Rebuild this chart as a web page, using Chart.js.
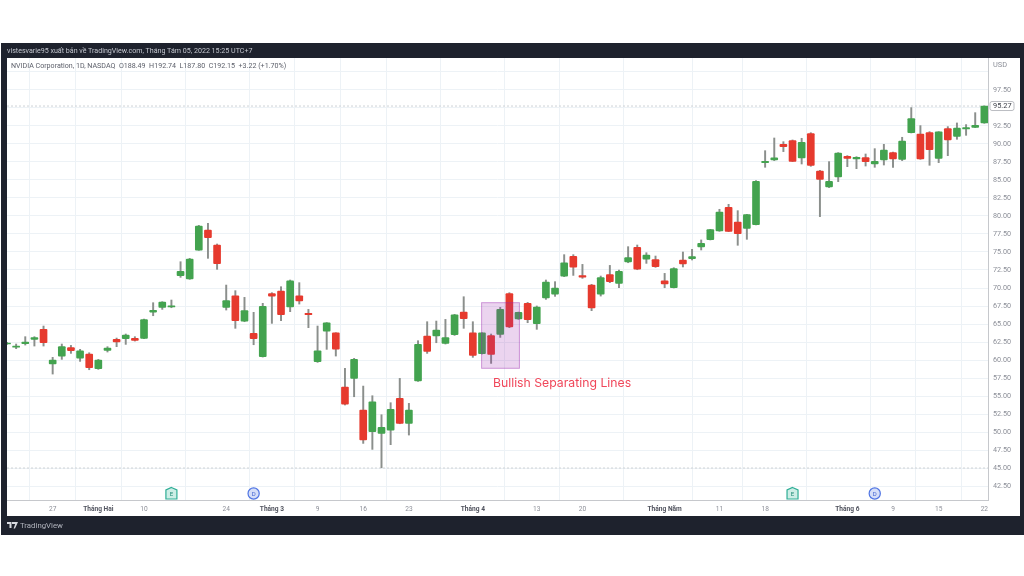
<!DOCTYPE html>
<html>
<head>
<meta charset="utf-8">
<title>NVIDIA Corporation, 1D</title>
<script src="https://cdn.jsdelivr.net/npm/chart.js@4"></script>
<style>
  html, body { margin: 0; padding: 0; background: #fff; }
  #page { position: relative; width: 1024px; height: 576px; overflow: hidden; filter: blur(0.6px); font-family: Roboto, "Noto Sans", sans-serif; }
  #frame { position: absolute; left: 1px; top: 43px; width: 1023px; height: 492px; background: #1e222d; }
  #panel { position: absolute; left: 7px; top: 58px; width: 1013px; height: 458px; background: #fff; }
  #chart { position: absolute; left: 0; top: 0; }
  #published { position: absolute; left: 7px; top: 46px; font-size: 7.1px; line-height: 10px; color: #c3c6ce; white-space: pre; }
  #legend { position: absolute; left: 11px; top: 61px; font-size: 7.1px; line-height: 10px; color: #5d606b; white-space: pre; }
  #brand { position: absolute; left: 7px; top: 521px; font-size: 7.8px; line-height: 10px; color: #b2b5be; white-space: pre; }
  #brand svg { position: absolute; left: 0; top: 1px; }
  #brand span { margin-left: 13px; }
</style>
</head>
<body>
<div id="page">
  <div id="frame"></div>
  <div id="panel"></div>
  <canvas id="chart" width="1024" height="576"></canvas>
  <div id="published">vistesvarie95 xuất bản về TradingView.com, Tháng Tám 05, 2022 15:25 UTC+7</div>
  <div id="legend">NVIDIA Corporation, 1D, NASDAQ  O188.49  H192.74  L187.80  C192.15  +3.22 (+1.70%)</div>
  <div id="brand"><svg width="11" height="7" viewBox="0 0 11 7"><path d="M0 0h4.5v6H2.5V2H0z M5 0h6L8 6.5H6.6L8.2 2H5z" fill="#d8dae0"/></svg><span>TradingView</span></div>
</div>
<script>
const open = [
  62.25,61.80,62.27,62.87,64.26,59.44,60.55,61.71,60.27,60.83,
  58.79,61.34,62.87,62.96,63.00,63.00,66.66,67.31,67.36,71.71,
  71.25,75.27,78.05,75.97,67.31,68.93,65.41,63.70,60.46,69.21,
  69.58,67.36,68.93,66.48,59.76,64.02,63.79,56.25,57.45,53.05,
  50.04,49.81,50.27,54.67,51.20,57.08,63.33,63.33,62.31,63.51,
  66.66,63.79,60.87,63.38,63.56,69.21,65.69,67.87,65.04,68.61,
  69.16,71.66,74.39,71.71,70.41,69.16,71.85,70.64,73.61,75.64,
  74.02,73.93,71.01,70.04,73.89,74.07,75.69,76.71,77.92,81.20,
  79.17,78.29,78.80,87.41,87.78,89.95,90.46,88.06,91.44,86.25,
  84.03,85.42,88.29,87.92,88.10,87.22,87.78,88.80,87.87,91.57,
  91.39,91.57,88.01,92.13,91.06,92.08,92.31,92.92
];
const high = [
  62.45,62.22,63.24,63.24,64.72,60.37,62.22,62.03,61.48,61.01,
  60.09,61.85,63.05,63.61,63.24,65.69,67.96,68.10,68.33,73.65,
  74.12,78.70,78.98,76.11,70.41,69.63,68.70,66.62,67.87,69.35,
  70.18,71.11,70.74,67.03,64.72,65.20,63.79,58.84,60.23,56.38,
  55.04,52.40,54.07,57.45,53.98,62.68,65.32,65.41,65.64,66.34,
  68.79,65.32,63.79,63.61,67.31,69.35,66.66,68.00,67.50,71.11,
  70.88,74.63,74.63,73.28,70.51,71.66,73.14,72.50,75.74,75.97,
  74.90,74.44,72.03,72.82,75.00,75.37,76.67,78.15,80.93,81.62,
  80.74,80.23,84.91,89.07,90.83,90.32,90.56,90.79,91.57,86.34,
  87.55,88.80,88.38,88.24,88.61,89.35,89.95,88.89,90.93,95.05,
  92.55,91.71,91.71,92.41,92.92,92.69,94.35,95.28
];
const low = [
  62.15,61.57,62.08,61.94,61.94,58.05,60.09,60.92,59.81,58.65,
  58.70,61.11,61.85,62.17,62.63,62.96,66.15,67.03,67.26,71.48,
  71.20,75.23,74.12,72.59,66.94,64.40,65.32,62.12,60.41,65.09,
  65.46,66.71,67.77,64.49,59.67,61.48,60.55,53.75,54.90,48.42,
  47.59,45.04,48.24,51.15,49.58,57.03,60.92,62.40,62.22,63.42,
  64.40,60.37,60.83,59.53,63.14,64.49,65.64,65.18,64.26,68.42,
  68.84,71.57,71.75,71.34,66.85,68.88,70.74,70.04,73.51,72.54,
  73.42,72.87,70.04,70.00,72.92,73.89,75.28,76.67,77.87,77.82,
  75.93,76.76,78.75,86.76,87.69,88.94,87.55,87.22,86.90,79.91,
  83.94,84.77,86.85,86.57,86.94,86.76,87.08,86.76,87.69,91.53,
  87.87,87.04,87.41,88.38,90.65,91.20,92.27,92.87
];
const close = [
  62.35,61.94,62.50,63.10,62.40,60.00,61.85,61.29,61.29,58.93,
  60.00,61.66,62.50,63.47,62.73,65.60,66.89,68.05,67.54,72.31,
  74.03,78.61,76.99,73.38,68.24,65.46,66.85,62.96,67.45,68.88,
  66.29,71.01,68.19,66.29,61.29,65.18,61.52,53.88,60.09,48.89,
  54.21,50.64,53.14,51.20,53.05,62.17,61.20,64.16,63.10,66.29,
  65.74,60.64,63.79,60.78,67.03,64.58,66.62,65.60,67.36,70.83,
  70.00,73.51,72.91,71.52,67.22,71.43,70.88,72.31,74.21,72.63,
  74.58,72.96,70.55,72.68,73.33,74.35,76.20,78.10,80.56,77.87,
  77.55,80.19,84.81,87.59,88.06,89.63,87.59,90.23,87.04,85.09,
  84.81,88.75,88.01,88.15,87.55,87.59,89.17,87.92,90.42,93.52,
  87.92,89.21,91.67,90.56,92.22,92.27,92.59,95.27
];

const xTickIndex = [5, 10, 15, 24, 29, 34, 39, 44, 51, 58, 63, 72, 78, 83, 92, 97, 102, 107];
const xTickLabels = ['27', 'Tháng Hai', '10', '24', 'Tháng 3', '9', '16', '23', 'Tháng 4', '13', '20', 'Tháng Năm', '11', '18', 'Tháng 6', '9', '15', '22'];
const yTickValues = [100, 97.5, 95, 92.5, 90, 87.5, 85, 82.5, 80, 77.5, 75, 72.5, 70, 67.5, 65, 62.5, 60, 57.5, 55, 52.5, 50, 47.5, 45, 42.5];
const yTickLabels = ['', '97.50', '', '92.50', '90.00', '87.50', '85.00', '82.50', '80.00', '77.50', '75.00', '72.50', '70.00', '67.50', '65.00', '62.50', '60.00', '57.50', '55.00', '52.50', '50.00', '47.50', '45.00', '42.50'];

const lastPrice = 95.27;
const lowLevel = 45;
const earningsAt = [18, 86];
const dividendAt = [27, 95];
const patternBox = { x0: 51.96, x1: 56.1, top: 67.96, bottom: 58.85 };
const patternLabel = 'Bullish Separating Lines';

const GREEN = '#43a34f';
const RED = '#e63a2e';
const WICK = '#8b8f8c';
const GRID = '#edf2f6';
const AXIS = '#c6c8cc';

const candleColor = close.map((c, i) => c >= open[i] ? GREEN : RED);

// overlay: pattern box, its label, earnings/dividend marks and the price tag
const overlay = {
  id: 'overlay',
  afterDatasetsDraw(chart) {
    const { ctx, scales: { x, y } } = chart;
    ctx.save();

    const bx = x.getPixelForValue(patternBox.x0);
    const bw = x.getPixelForValue(patternBox.x1) - bx;
    const by = y.getPixelForValue(patternBox.top);
    const bh = y.getPixelForValue(patternBox.bottom) - by;
    ctx.fillStyle = 'rgba(156, 39, 176, 0.2)';
    ctx.strokeStyle = 'rgba(156, 39, 176, 0.45)';
    ctx.fillRect(bx, by, bw, bh);
    ctx.strokeRect(bx, by, bw, bh);

    ctx.fillStyle = '#f0475a';
    ctx.font = '12.25px Inter, Roboto, sans-serif';
    ctx.textAlign = 'left';
    ctx.textBaseline = 'middle';
    ctx.fillText(patternLabel, x.getPixelForValue(53.2), y.getPixelForValue(56.8));

    const markY = chart.chartArea.bottom - 6.5;
    ctx.lineWidth = 1.2;
    ctx.textAlign = 'center';
    ctx.font = '6px Roboto, sans-serif';
    earningsAt.forEach(i => {
      const cx = x.getPixelForValue(i);
      ctx.beginPath();
      ctx.moveTo(cx, markY - 6);
      ctx.lineTo(cx + 5.5, markY - 3.5);
      ctx.lineTo(cx + 5.5, markY + 5.5);
      ctx.lineTo(cx - 5.5, markY + 5.5);
      ctx.lineTo(cx - 5.5, markY - 3.5);
      ctx.closePath();
      ctx.fillStyle = '#cdeee6';
      ctx.strokeStyle = '#2fae96';
      ctx.fill();
      ctx.stroke();
      ctx.fillStyle = '#1f8a76';
      ctx.fillText('E', cx, markY + 0.5);
    });
    dividendAt.forEach(i => {
      const cx = x.getPixelForValue(i);
      ctx.beginPath();
      ctx.arc(cx, markY, 5.6, 0, Math.PI * 2);
      ctx.fillStyle = '#d5def8';
      ctx.strokeStyle = '#4f74e3';
      ctx.fill();
      ctx.stroke();
      ctx.fillStyle = '#3c5fd0';
      ctx.fillText('D', cx, markY + 0.5);
    });

    const tagY = y.getPixelForValue(lastPrice);
    ctx.fillStyle = '#fff';
    ctx.strokeStyle = '#a9acb3';
    ctx.lineWidth = 0.8;
    ctx.beginPath();
    ctx.roundRect(990, tagY - 4.5, 24, 9, 2);
    ctx.fill();
    ctx.stroke();
    ctx.fillStyle = '#3a3d46';
    ctx.font = '7.4px Roboto, sans-serif';
    ctx.textAlign = 'left';
    ctx.fillText(lastPrice.toFixed(2), 993, tagY + 0.5);

    ctx.fillStyle = '#8c8f98';
    ctx.fillText('USD', 993, 65);
    ctx.restore();
  }
};

function levelLine(value) {
  return {
    type: 'line',
    data: [{ x: 0, y: value }, { x: 107.4, y: value }],
    borderColor: '#cfd2d6',
    borderWidth: 1,
    borderDash: [2, 2],
    pointRadius: 0,
    order: 3
  };
}

new Chart(document.getElementById('chart'), {
  data: {
    datasets: [
      levelLine(lastPrice),
      levelLine(lowLevel),
      {
        type: 'bar',
        data: low.map((l, i) => ({ x: i, y: [l, high[i]] })),
        backgroundColor: WICK,
        barThickness: 1.3,
        grouped: false,
        order: 2
      },
      {
        type: 'bar',
        data: open.map((o, i) => ({ x: i, y: [o, close[i]] })),
        backgroundColor: candleColor,
        barThickness: 7,
        borderRadius: 1,
        borderSkipped: false,
        grouped: false,
        order: 1
      }
    ]
  },
  plugins: [overlay],
  options: {
    responsive: false,
    animation: false,
    events: [],
    layout: { padding: { left: 7, right: 4, top: 58, bottom: 60 } },
    plugins: { legend: { display: false }, tooltip: { enabled: false } },
    scales: {
      x: {
        type: 'linear',
        offset: false,
        min: 0,
        max: 107.4,
        afterBuildTicks: scale => { scale.ticks = xTickIndex.map(value => ({ value })); },
        afterFit: scale => { scale.height = 16; },
        grid: { color: GRID, lineWidth: 1, drawTicks: false },
        border: { display: true, color: AXIS, width: 1 },
        ticks: {
          autoSkip: false,
          maxRotation: 0,
          padding: 5,
          color: ctx => ctx.tick && xTickLabels[xTickIndex.indexOf(ctx.tick.value)].startsWith('Tháng') ? '#50535e' : '#8c8f98',
          font: ctx => ({
            family: 'Roboto, sans-serif',
            size: 6.6,
            weight: ctx.tick && xTickLabels[xTickIndex.indexOf(ctx.tick.value)].startsWith('Tháng') ? 'bold' : 'normal'
          }),
          callback: value => xTickLabels[xTickIndex.indexOf(value)]
        }
      },
      y: {
        position: 'right',
        min: 40.56,
        max: 101.94,
        afterBuildTicks: scale => { scale.ticks = yTickValues.map(value => ({ value })); },
        afterFit: scale => { scale.width = 32; },
        grid: { color: GRID, lineWidth: 1, drawTicks: false },
        border: { display: true, color: AXIS, width: 1 },
        ticks: {
          autoSkip: false,
          padding: 5,
          color: '#8c8f98',
          font: { family: 'Roboto, sans-serif', size: 7.2 },
          callback: value => yTickLabels[yTickValues.indexOf(value)]
        }
      }
    }
  }
});
</script>
</body>
</html>
